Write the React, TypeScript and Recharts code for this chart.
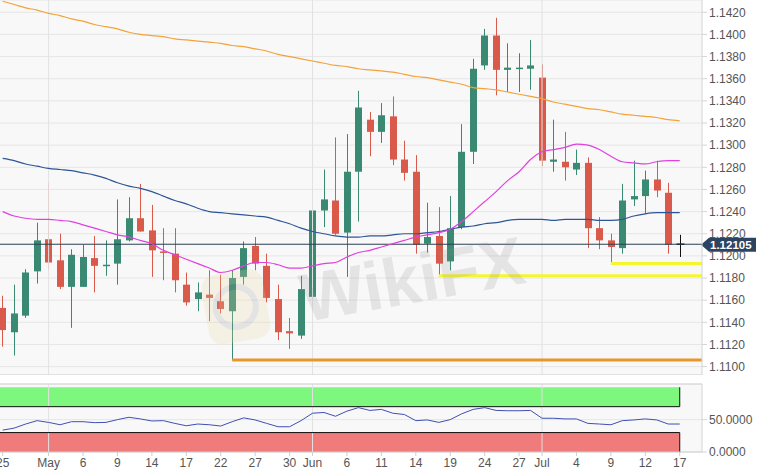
import { ComposedChart, Bar, Line, XAxis, YAxis, CartesianGrid, ReferenceLine, ReferenceArea } from 'recharts'

// EUR/USD daily, 25 Apr - 17 Jul
const tickIndex = [0, 4, 7, 10, 13, 16, 19, 22, 25, 27, 30, 33, 36, 39, 42, 45, 47, 50, 53, 56, 59]
const tickLabels = ['25', 'May', '6', '9', '14', '17', '22', '27', '30', 'Jun', '6', '11', '14', '19', '24', '27', 'Jul', '4', '9', '12', '17']
const monthStarts = [4, 27, 47]

const open = [
  1.1153, 1.1131, 1.1146, 1.1186, 1.1215, 1.1196, 1.1172, 1.1172, 1.1198, 1.1191,
  1.1193, 1.1214, 1.1234, 1.1223, 1.1204, 1.1202, 1.1174, 1.1161, 1.1165, 1.1159,
  1.115, 1.1181, 1.1209, 1.1191, 1.1161, 1.1132, 1.1128, 1.1163, 1.1241, 1.125,
  1.1221, 1.1276, 1.1323, 1.1312, 1.1326, 1.1287, 1.1276, 1.1211, 1.1218, 1.1195,
  1.1226, 1.1294, 1.1372, 1.1399, 1.1368, 1.1369, 1.1369, 1.1361, 1.1285, 1.1285,
  1.1278, 1.1284, 1.1225, 1.1214, 1.1207, 1.1251, 1.1254, 1.1269, 1.1257, 1.12105,
]
const high = [
  1.1164, 1.1174, 1.1188, 1.123, 1.1266, 1.122, 1.1206, 1.121, 1.1218, 1.1214,
  1.1251, 1.1253, 1.1265, 1.1246, 1.1225, 1.1225, 1.1185, 1.1176, 1.1187, 1.1183,
  1.1187, 1.1213, 1.1217, 1.1202, 1.1174, 1.1144, 1.1182, 1.1264, 1.1278, 1.1307,
  1.131, 1.1349, 1.133, 1.1338, 1.1344, 1.1304, 1.1291, 1.1248, 1.1244, 1.1254,
  1.1319, 1.1378, 1.1405, 1.1415, 1.1392, 1.1383, 1.1395, 1.1373, 1.1323, 1.1312,
  1.1296, 1.1289, 1.1235, 1.122, 1.1265, 1.1286, 1.1277, 1.1286, 1.1266, 1.1219,
]
const low = [
  1.1118, 1.111, 1.1144, 1.1175, 1.1187, 1.117, 1.1135, 1.1172, 1.1167, 1.1182,
  1.1174, 1.1213, 1.1222, 1.1181, 1.1178, 1.1167, 1.1155, 1.115, 1.1141, 1.1148,
  1.1106, 1.1174, 1.1187, 1.1158, 1.1124, 1.1116, 1.1125, 1.116, 1.1226, 1.1219,
  1.1181, 1.1231, 1.129, 1.1302, 1.1282, 1.1268, 1.1202, 1.1203, 1.1182, 1.1187,
  1.1224, 1.1283, 1.1368, 1.1345, 1.1348, 1.1348, 1.135, 1.1281, 1.1276, 1.1268,
  1.1273, 1.1207, 1.1206, 1.1193, 1.1202, 1.1245, 1.1238, 1.1253, 1.1202, 1.1199,
]
const close = [
  1.1133, 1.1148, 1.1185, 1.1214, 1.1194, 1.1172, 1.1201, 1.1199, 1.1191, 1.1192,
  1.1215, 1.1234, 1.1222, 1.1205, 1.1203, 1.1178, 1.1158, 1.1167, 1.1162, 1.1152,
  1.118, 1.1207, 1.1193, 1.1162, 1.1131, 1.113, 1.117, 1.1241, 1.1251, 1.122,
  1.1276, 1.1334, 1.1312, 1.1327, 1.1287, 1.1275, 1.121, 1.1217, 1.1193, 1.1225,
  1.1294, 1.1369, 1.1399, 1.1368, 1.137, 1.137, 1.1372, 1.1286, 1.1287, 1.128,
  1.1284, 1.1225, 1.1214, 1.1208, 1.125, 1.1254, 1.1269, 1.1259, 1.121, 1.12105,
]

const sma200 = [
  1.143, 1.1427, 1.1424, 1.1422, 1.1419, 1.1417, 1.1414, 1.1412, 1.1409, 1.1407,
  1.1405, 1.1402, 1.14, 1.1399, 1.1398, 1.1396, 1.1395, 1.1394, 1.1393, 1.1392,
  1.139, 1.1389, 1.1387, 1.1385, 1.1382, 1.138, 1.1378, 1.1376, 1.1374, 1.1372,
  1.1371, 1.1369, 1.1368, 1.1367, 1.1366, 1.1364, 1.1362, 1.1361, 1.1359, 1.1357,
  1.1355, 1.1352, 1.1351, 1.135, 1.1348, 1.1346, 1.1344, 1.1342, 1.1339, 1.1337,
  1.1335, 1.1333, 1.1332, 1.133, 1.1328, 1.1327, 1.1326, 1.1325, 1.1323, 1.1322,
]
const sma50 = [
  1.1288, 1.1286, 1.1283, 1.1281, 1.1279, 1.1278, 1.1277, 1.1275, 1.1273, 1.127,
  1.1266, 1.1263, 1.1261, 1.1258, 1.1254, 1.125, 1.1247, 1.1243, 1.124, 1.1239,
  1.1238, 1.1237, 1.1236, 1.1235, 1.1232, 1.1229, 1.1225, 1.1222, 1.122, 1.1218,
  1.1217, 1.1217, 1.1218, 1.1218, 1.1219, 1.122, 1.122, 1.1221, 1.1222, 1.1224,
  1.1226, 1.1227, 1.1229, 1.123, 1.1232, 1.1233, 1.1233, 1.1233, 1.1232, 1.1233,
  1.1233, 1.1233, 1.1232, 1.1232, 1.1233, 1.1236, 1.1238, 1.1239, 1.1239, 1.1239,
]
const sma20 = [
  1.124, 1.1236, 1.1234, 1.1233, 1.1233, 1.1232, 1.1231, 1.1228, 1.1225, 1.1222,
  1.1219, 1.1217, 1.1214, 1.1211, 1.1205, 1.1201, 1.1197, 1.1193, 1.1189, 1.1185,
  1.1187, 1.1191, 1.1194, 1.1194, 1.1192, 1.1189, 1.1189, 1.1191, 1.1193, 1.1194,
  1.1199, 1.1203, 1.1205, 1.1208, 1.1211, 1.1214, 1.1217, 1.1219, 1.1221, 1.1224,
  1.1231, 1.124, 1.1249, 1.1258, 1.1268, 1.1276, 1.1287, 1.1294, 1.1296, 1.1298,
  1.1301, 1.13, 1.1296, 1.129, 1.1285, 1.1284, 1.1283, 1.1285, 1.1286, 1.1286,
]
const rsi = [
  33.8, 36.9, 43.2, 48.4, 45.7, 42.1, 46.8, 46.8, 45.3, 45.7,
  50.0, 53.6, 51.1, 47.9, 48.4, 44.2, 40.5, 43.2, 42.1, 40.1,
  46.8, 52.7, 49.5, 44.2, 39.0, 39.0, 48.4, 59.9, 61.0, 55.2,
  63.1, 68.5, 64.2, 65.8, 59.9, 57.9, 48.4, 49.5, 45.7, 50.0,
  59.0, 65.8, 68.5, 64.2, 63.7, 63.7, 64.2, 52.1, 52.1, 51.1,
  51.1, 44.2, 43.2, 42.1, 48.4, 49.5, 51.1, 49.5, 43.2, 43.2,
]

const priceTicks = [
  1.11, 1.112, 1.114, 1.116, 1.118, 1.12, 1.122, 1.124, 1.126,
  1.128, 1.13, 1.132, 1.134, 1.136, 1.138, 1.14, 1.142,
]
const lastPrice = 1.12105
// horizontal support levels: [start index, price]
const orangeLevel = { from: 20, price: 1.1106 }
const yellowLevels = [
  { from: 38, price: 1.1182 },
  { from: 53, price: 1.1193 },
]

const X_MIN = -0.235
const X_MAX = 60.94
const GREEN = '#3a8a73'
const RED = '#d95a4a'
const FONT = '"Liberation Sans", Arial, sans-serif'

const data = open.map((o, i) => ({
  i,
  open: o,
  high: high[i],
  low: low[i],
  close: close[i],
  range: [low[i], high[i]],
  sma200: sma200[i],
  sma50: sma50[i],
  sma20: sma20[i],
  rsi: rsi[i],
}))

function Candle(props: any) {
  const { x, y, width, height, payload } = props
  if (x == null || y == null) return null
  const top = Math.min(y, y + height)
  const bot = Math.max(y, y + height)
  const span = payload.high - payload.low
  const toY = (p: number) => (span === 0 ? top : top + ((payload.high - p) / span) * (bot - top))
  const cx = Math.round(x + width / 2) + 0.5
  const color = payload.close > payload.open ? GREEN : payload.close < payload.open ? RED : '#111'
  const yO = toY(payload.open)
  const yC = toY(payload.close)
  const bodyTop = Math.min(yO, yC)
  const bodyH = Math.max(Math.abs(yC - yO), 1.5)
  return (
    <g>
      <line x1={cx} x2={cx} y1={top} y2={bot} stroke={color} strokeWidth={1} />
      {payload.close === payload.open ? (
        <line x1={cx - 4} x2={cx + 4} y1={yO} y2={yO} stroke={color} strokeWidth={1.5} />
      ) : (
        <rect x={cx - 3.5} y={bodyTop} width={7} height={bodyH} fill={color} />
      )}
    </g>
  )
}

function PriceTag(props: any) {
  const { viewBox } = props
  if (!viewBox) return null
  const x = viewBox.x + viewBox.width - 1
  const y = viewBox.y + 0.5
  return (
    <g>
      <path
        d={`M${x} ${y} L${x + 8} ${y - 7} L${x + 55} ${y - 7} L${x + 55} ${y + 7} L${x + 8} ${y + 7} Z`}
        fill="#2d4461"
      />
      <text x={x + 9} y={y + 4.5} fill="#fff" fontSize={11.5} fontWeight="bold" fontFamily={FONT}>
        {lastPrice.toFixed(5)}
      </text>
    </g>
  )
}

const axisTick = { fill: '#555', fontSize: 12, fontFamily: FONT }

export default function App() {
  return (
    <div style={{ position: 'fixed', left: 0, top: 0, width: 760, height: 476, background: '#fff', overflow: 'hidden', fontFamily: FONT }}>
      <div style={{ position: 'absolute', left: 0, top: 0 }}>
        <ComposedChart width={760} height={375} data={data} margin={{ top: 0, right: 0, bottom: 0, left: 0 }}>
          <CartesianGrid vertical={false} stroke="#e6e6e6" fill="#f8f8f8" />
          {monthStarts.map((m) => (
            <ReferenceLine key={m} x={m} stroke="#e2e2e2" />
          ))}
          <XAxis type="number" dataKey="i" domain={[X_MIN, X_MAX]} allowDataOverflow hide ticks={tickIndex} />
          <YAxis
            orientation="right"
            domain={[1.10924, 1.14311]}
            allowDataOverflow
            ticks={priceTicks}
            tickFormatter={(v: number) => v.toFixed(4)}
            width={58}
            tickSize={5}
            stroke="#d4d4d4"
            tick={axisTick}
            interval={0}
          />
          <ReferenceLine y={1.10924} stroke="#d4d4d4" />
          <ReferenceLine
            segment={[{ x: orangeLevel.from, y: orangeLevel.price }, { x: X_MAX, y: orangeLevel.price }]}
            stroke="#e8952b"
            strokeWidth={3}
          />
          {yellowLevels.map((l) => (
            <ReferenceLine
              key={l.from}
              segment={[{ x: l.from, y: l.price }, { x: X_MAX, y: l.price }]}
              stroke="#f6f62e"
              strokeWidth={3}
            />
          ))}
          <ReferenceLine y={lastPrice} stroke="#2c3e50" strokeWidth={1} label={<PriceTag />} />
          <Line type="monotone" dataKey="sma200" stroke="#f2a33a" strokeWidth={1.2} dot={false} activeDot={false} isAnimationActive={false} />
          <Line type="monotone" dataKey="sma50" stroke="#2e5596" strokeWidth={1.2} dot={false} activeDot={false} isAnimationActive={false} />
          <Line type="monotone" dataKey="sma20" stroke="#e040e0" strokeWidth={1.2} dot={false} activeDot={false} isAnimationActive={false} />
          <Bar dataKey="range" barSize={7} shape={(p: any) => <Candle {...p} />} isAnimationActive={false} />
        </ComposedChart>
      </div>
      <div style={{ position: 'absolute', left: 0, top: 376 }}>
        <ComposedChart width={760} height={100} data={data} margin={{ top: 8, right: 0, bottom: 0, left: 0 }}>
          <CartesianGrid vertical={false} stroke="#e6e6e6" fill="#f8f8f8" />
          {monthStarts.map((m) => (
            <ReferenceLine key={m} x={m} stroke="#e2e2e2" />
          ))}
          <ReferenceLine y={105} stroke="#d4d4d4" />
          <ReferenceArea x1={X_MIN} x2={59} y1={70} y2={100} fill="#7df77d" fillOpacity={1} stroke="none" />
          <ReferenceArea x1={X_MIN} x2={59} y1={0} y2={30} fill="#f07b7b" fillOpacity={1} stroke="none" />
          <ReferenceLine segment={[{ x: X_MIN, y: 70 }, { x: 59, y: 70 }]} stroke="#111" />
          <ReferenceLine segment={[{ x: X_MIN, y: 30 }, { x: 59, y: 30 }]} stroke="#111" />
          <ReferenceLine segment={[{ x: 59, y: 70 }, { x: 59, y: 100 }]} stroke="#111" />
          <ReferenceLine segment={[{ x: 59, y: 0 }, { x: 59, y: 30 }]} stroke="#111" />
          <XAxis
            type="number"
            dataKey="i"
            domain={[X_MIN, X_MAX]}
            allowDataOverflow
            ticks={tickIndex}
            interval={0}
            tickFormatter={(v: number) => tickLabels[tickIndex.indexOf(v)] ?? ''}
            height={24}
            tickSize={4}
            stroke="#cfcfcf"
            tick={axisTick}
          />
          <YAxis
            orientation="right"
            domain={[0, 105]}
            allowDataOverflow
            ticks={[0, 50]}
            tickFormatter={(v: number) => v.toFixed(4)}
            width={58}
            tickSize={5}
            stroke="#d4d4d4"
            tick={axisTick}
            interval={0}
          />
          <Line type="linear" dataKey="rsi" stroke="#3f4fb4" strokeWidth={1} dot={false} activeDot={false} isAnimationActive={false} />
        </ComposedChart>
      </div>
      <svg width={760} height={476} style={{ position: 'absolute', left: 0, top: 0, pointerEvents: 'none' }}>
        <g transform="rotate(-10 235 308)" opacity={0.22}>
          <rect x={205} y={272} width={62} height={70} rx={14} fill="#efd7a2" />
          <circle cx={236} cy={307} r={20} fill="none" stroke="#9a9a9a" strokeWidth={6} />
        </g>
        <text
          x={305}
          y={322}
          fontSize={68}
          fontWeight="bold"
          fontFamily={FONT}
          fill="#8c8c8c"
          opacity={0.18}
          transform="rotate(-10 305 322)"
        >
          WikiFX
        </text>
      </svg>
    </div>
  )
}
